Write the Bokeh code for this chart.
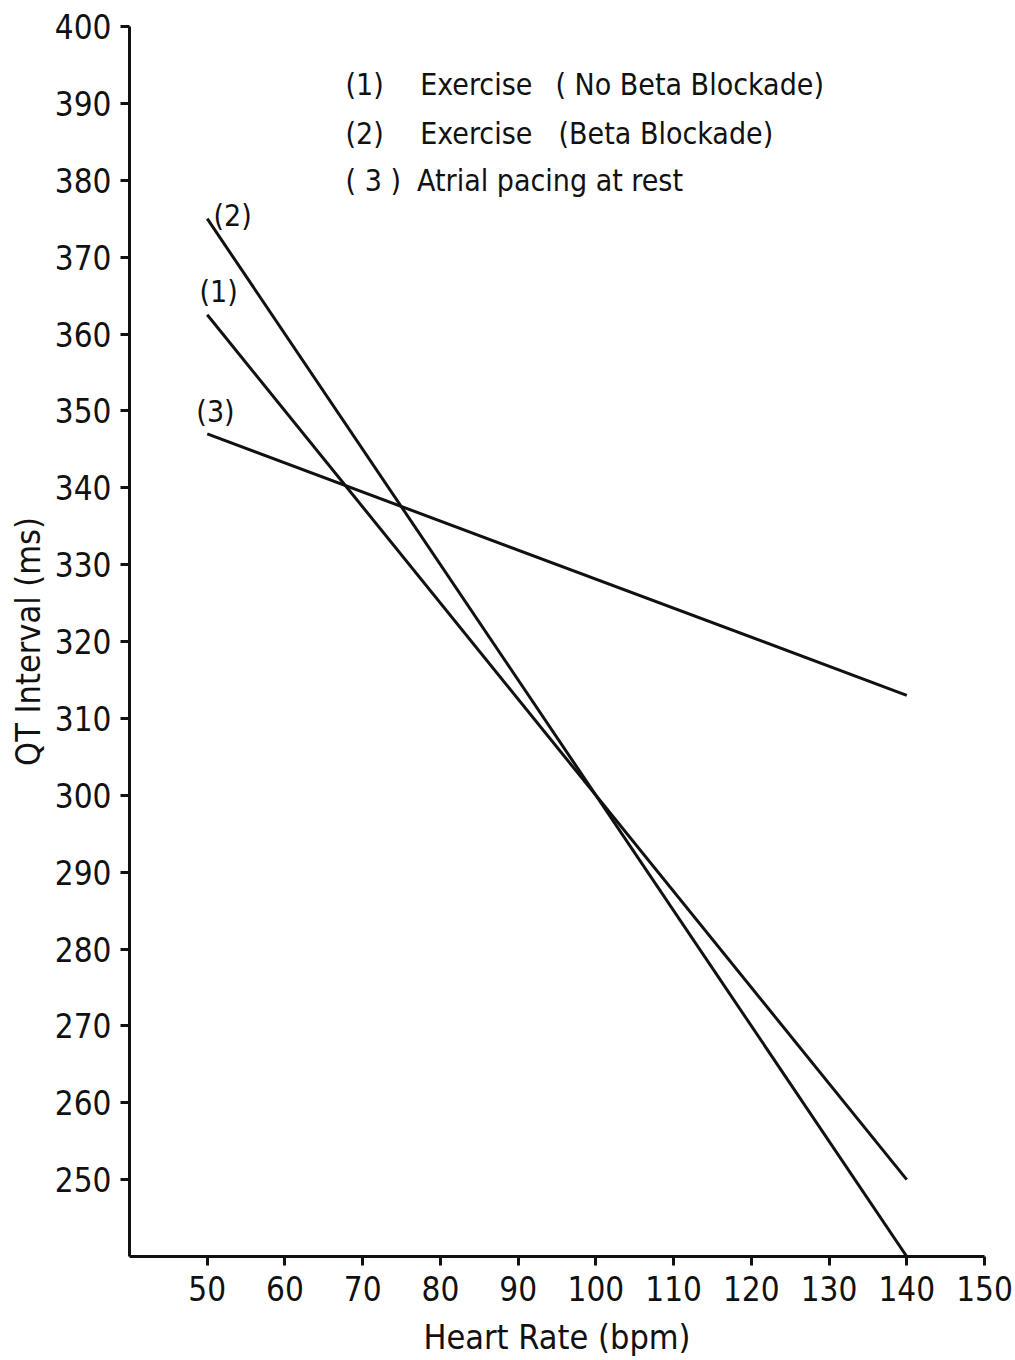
from bokeh.plotting import figure
from bokeh.models import Range1d, FixedTicker
from bokeh.core.properties import value
from bokeh.embed import file_html
from bokeh.resources import INLINE

# Regression lines of QT interval against heart rate (end points)
heart_rate = [50, 140]
qt_exercise_no_bb = [362.5, 250.0]   # (1)
qt_exercise_bb = [375.0, 240.0]      # (2)
qt_atrial_pacing = [347.0, 313.0]    # (3)

x_ticks = [50, 60, 70, 80, 90, 100, 110, 120, 130, 140, 150]
y_ticks = [250, 260, 270, 280, 290, 300, 310, 320, 330, 340, 350, 360, 370, 380, 390, 400]

# Curve tags placed beside the start of each line
tag_text = ["(1)", "(2)", "(3)"]
tag_x = [49.0, 50.8, 48.6]
tag_y = [363.3, 373.1, 347.7]

# Key in the upper part of the chart
key_num = ["(1)", "(2)", "( 3 )"]
key_desc = ["Exercise", "Exercise", "Atrial pacing at rest"]
key_note = ["( No Beta Blockade)", "(Beta Blockade)", ""]

FONT = "DejaVu Sans Condensed, sans-serif"
INK = "#111111"

p = figure(width=1015, height=1360, output_backend="svg", toolbar_location=None,
           x_range=Range1d(40, 150), y_range=Range1d(240, 400),
           min_border_left=129, min_border_right=31, min_border_top=26,
           min_border_bottom=104)
p.outline_line_color = None
p.xgrid.visible = False
p.ygrid.visible = False
p.background_fill_color = "white"
p.border_fill_color = "white"

for ax in (p.xaxis[0], p.yaxis[0]):
    ax.axis_line_width = 3
    ax.axis_line_color = INK
    ax.major_tick_line_width = 3
    ax.major_tick_line_color = INK
    ax.major_tick_out = 9
    ax.major_tick_in = 0
    ax.minor_tick_out = 0
    ax.minor_tick_in = 0
    ax.major_label_text_font = FONT
    ax.major_label_text_font_size = "33px"
    ax.major_label_text_color = INK
    ax.axis_label_text_font = FONT
    ax.axis_label_text_font_size = "34px"
    ax.axis_label_text_font_style = "normal"
    ax.axis_label_text_color = INK

p.xaxis.ticker = FixedTicker(ticks=x_ticks)
p.yaxis.ticker = FixedTicker(ticks=y_ticks)
p.xaxis.axis_label = "Heart Rate (bpm)"
p.yaxis.axis_label = "QT Interval (ms)"
p.xaxis.major_label_standoff = 10
p.xaxis.axis_label_standoff = 13
p.yaxis.major_label_standoff = 9
p.yaxis.axis_label_standoff = 4

for ys in (qt_exercise_no_bb, qt_exercise_bb, qt_atrial_pacing):
    p.line(heart_rate, ys, line_width=3, line_color=INK)

p.text(x=tag_x, y=tag_y, text=tag_text, text_font=value(FONT),
       text_font_size="30px", text_color=INK, text_baseline="bottom",
       text_align="left")

key_y = [392.4, 386.1, 380.0]
p.text(x=[67.8] * 3, y=key_y, text=key_num, text_font=value(FONT),
       text_font_size="30px", text_color=INK, text_baseline="alphabetic")
p.text(x=[77.4, 77.4, 77.0], y=key_y, text=key_desc, text_font=value(FONT),
       text_font_size="30px", text_color=INK, text_baseline="alphabetic")
p.text(x=[94.8, 95.2, 95.2], y=key_y, text=key_note, text_font=value(FONT),
       text_font_size="30px", text_color=INK, text_baseline="alphabetic")

open("out.html", "w").write(file_html(p, INLINE))
